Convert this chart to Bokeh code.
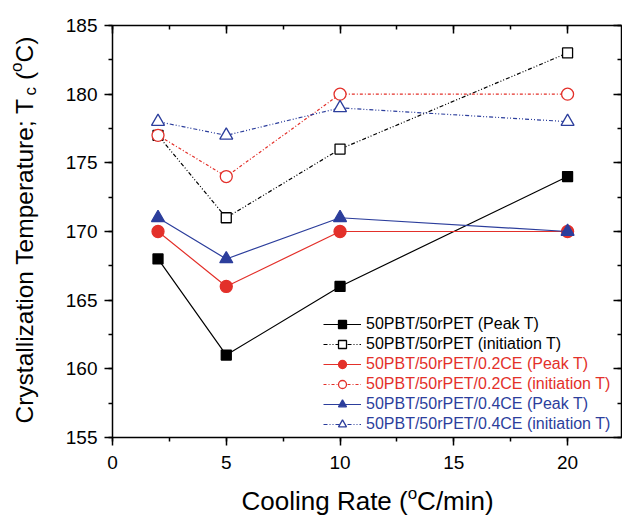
import math
from bokeh.plotting import figure
from bokeh.layouts import column, row
from bokeh.models import Range1d, LinearAxis, SingleIntervalTicker, Legend, LegendItem
from bokeh.core.properties import value
from bokeh.embed import file_html
from bokeh.resources import INLINE

# ---- data ----
cooling_rate = [2, 5, 10, 20]
pbt_peak = [168, 161, 166, 174]
pbt_init = [177, 171, 176, 183]
ce02_peak = [170, 166, 170, 170]
ce02_init = [177, 174, 180, 180]
ce04_peak = [171, 168, 171, 170]
ce04_init = [178, 177, 179, 178]

labels = [
    "50PBT/50rPET (Peak T)",
    "50PBT/50rPET (initiation T)",
    "50PBT/50rPET/0.2CE (Peak T)",
    "50PBT/50rPET/0.2CE (initiation T)",
    "50PBT/50rPET/0.4CE (Peak T)",
    "50PBT/50rPET/0.4CE (initiation T)",
]

x_min, x_max = 0, 22.37
y_min, y_max = 155, 185

BLACK = "#000000"
RED = "#e3302a"
BLUE = "#2c3e9c"
FONT = "Liberation Sans"

TOTAL_W, TOTAL_H = 622, 515
YT_W = 56          # strip holding the y title
XT_H = 40          # strip holding the x title
MAIN_H = TOTAL_H - XT_H
B_TOP = 25
B_BOT = MAIN_H - 437
B_LEFT = 112 - YT_W

p = figure(width=TOTAL_W - YT_W, height=MAIN_H, output_backend="svg", toolbar_location=None,
           x_range=Range1d(x_min, x_max), y_range=Range1d(y_min, y_max),
           min_border_left=B_LEFT, min_border_right=1, min_border_top=B_TOP,
           min_border_bottom=B_BOT, x_axis_location=None, y_axis_location=None)
p.grid.visible = False
p.outline_line_color = None
p.background_fill_color = "white"
p.border_fill_color = "white"


def style_axis(ax, labels_on, outward):
    ax.axis_line_width = 1.5
    ax.axis_line_color = "black"
    ax.major_tick_line_width = 1.5
    ax.minor_tick_line_width = 1.5
    ax.major_tick_line_color = "black"
    ax.minor_tick_line_color = "black"
    if outward:
        ax.major_tick_out, ax.major_tick_in = 8, 0
        ax.minor_tick_out, ax.minor_tick_in = 4, 0
    else:
        ax.major_tick_out, ax.major_tick_in = 0, 8
        ax.minor_tick_out, ax.minor_tick_in = 0, 4
    if labels_on:
        ax.major_label_text_font = FONT
        ax.major_label_text_font_size = "19px"
        ax.major_label_text_color = "black"
    else:
        ax.major_label_text_color = None
        ax.major_label_text_font_size = "1px"
        ax.major_label_standoff = 0


def ticker():
    return SingleIntervalTicker(interval=5, num_minor_ticks=2)


for loc, lab, out, std in [("below", True, True, 10), ("left", True, True, 7),
                            ("above", False, False, 0), ("right", False, False, 0)]:
    ax = LinearAxis(ticker=ticker())
    style_axis(ax, lab, out)
    if lab:
        ax.major_label_standoff = std
    p.add_layout(ax, loc)

# ---- series ----
series = [
    (pbt_peak, BLACK, None, "square", 10, True),
    (pbt_init, BLACK, "4 2 1 2 1 2", "square", 10, False),
    (ce02_peak, RED, None, "circle", 12, True),
    (ce02_init, RED, "3 2 1 2", "circle", 12, False),
    (ce04_peak, BLUE, None, "triangle", 13, True),
    (ce04_init, BLUE, "4 2 1 2 1 2", "triangle", 13, False),
]

renders = []
for ys, col, dash, marker, size, filled in series:
    lr = p.line(cooling_rate, ys, line_color=col, line_width=1.2,
                line_dash=dash if dash else "solid")
    sr = p.scatter(cooling_rate, ys, marker=marker, size=size, line_color=col,
                   line_width=1.3, fill_color=col if filled else "white")
    renders.append([lr, sr])

legend_colors = [BLACK, RED, BLUE]
legend_y = [83, 43, 3]
for g in range(3):
    items = [LegendItem(label=labels[2 * g + k], renderers=renders[2 * g + k]) for k in range(2)]
    lg = Legend(items=items, location=(211, legend_y[g]), padding=0, margin=0, spacing=0,
                glyph_width=38, glyph_height=20, label_height=20, label_standoff=5,
                label_text_font=FONT, label_text_font_size="16px",
                label_text_color=legend_colors[g],
                border_line_color=None, background_fill_alpha=0)
    p.add_layout(lg)

# ---- axis titles built from pieces (sub/superscripts) ----
W = {' ': 278, '(': 333, ')': 333, '/': 278, ';': 278, 'C': 722, 'R': 722, 'T': 611,
     'a': 556, 'c': 500, 'e': 556, 'g': 556, 'i': 222, 'l': 222, 'm': 833, 'n': 556,
     'o': 556, 'p': 556, 'r': 333, 's': 500, 't': 278, 'u': 556, 'y': 500, 'z': 500}
BASE_FIX = 0.35   # glyph text sits this many ems below its anchor


def tw(s, size):
    return sum(W[c] for c in s) * size / 1000.0


def text_strip(w, h, y0, y1):
    f = figure(width=w, height=h, output_backend="svg", toolbar_location=None,
               x_range=Range1d(0, w), y_range=Range1d(y0, y1),
               min_border=0, x_axis_location=None, y_axis_location=None)
    f.grid.visible = False
    f.outline_line_color = None
    f.background_fill_color = "white"
    f.border_fill_color = "white"
    return f


# y-title strip: frame aligned with the main frame; data y = MAIN_H - page y
yfig = text_strip(YT_W, MAIN_H, B_BOT, MAIN_H - B_TOP)
yfig.min_border_top = B_TOP
yfig.min_border_bottom = B_BOT
# (text, font size, baseline shift, advance added before the piece)
y_title = [("Crystallization Temperature; T", 24.5, 0, 0), ("c", 17, -3, 0),
           ("(", 24.5, 0, tw(" ", 24.5)), ("o", 17, 11, 0), ("C)", 24.5, 0, 0)]
bx, by = 33, MAIN_H - 423
for txt, fs, shift, pre in y_title:
    by += pre
    yfig.text(x=[bx - shift - BASE_FIX * fs], y=[by], text=[txt], angle=math.pi / 2,
              text_font=value(FONT), text_font_size=value(f"{fs}px"), text_color="black",
              text_align="left", text_baseline="alphabetic")
    by += tw(txt, fs)

# x-title strip: data y = TOTAL_H - page y
xfig = text_strip(TOTAL_W, XT_H, 0, XT_H)
x_title = [("Cooling Rate (", 26, 0), ("o", 17, 11), ("C/min)", 26, 0)]
bx, by = 241, TOTAL_H - 510
for txt, fs, shift in x_title:
    xfig.text(x=[bx], y=[by + shift + BASE_FIX * fs], text=[txt],
              text_font=value(FONT), text_font_size=value(f"{fs}px"), text_color="black",
              text_align="left", text_baseline="alphabetic")
    bx += tw(txt, fs)

layout = column(row(yfig, p, spacing=0), xfig, spacing=0)

open("out.html", "w").write(file_html(layout, INLINE))
